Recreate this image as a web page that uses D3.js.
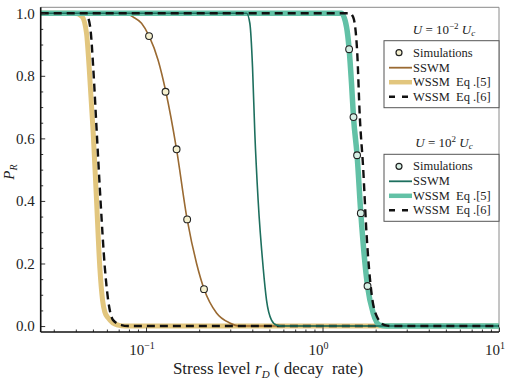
<!DOCTYPE html>
<html>
<head>
<meta charset="utf-8">
<script src="https://cdn.jsdelivr.net/npm/d3@7"></script>
<style>
  body { margin: 0; background: #fff; }
  text { font-family: "Liberation Serif", "DejaVu Serif", serif; fill: #222; }
</style>
</head>
<body>
<svg></svg>
<script>
// values: r = stress level, p = P_R
const xTicks = [0.1, 1, 10]
const xTickExp = ["\u22121", "0", "1"]
const yTicks = [0, 0.2, 0.4, 0.6, 0.8, 1.0]

// U = 10^-2 U_c
const rSimLow = [0.104, 0.129, 0.149, 0.171, 0.213]
const pSimLow = [0.927, 0.749, 0.565, 0.341, 0.118]
const rSswmLow = [0.0253, 0.0759, 0.0845, 0.0943, 0.1041, 0.1171, 0.1295, 0.1489, 0.1710, 0.1932, 0.2134, 0.2508, 0.2984, 0.3399, 10]
const pSswmLow = [1, 1, 0.988, 0.968, 0.927, 0.850, 0.749, 0.565, 0.341, 0.201, 0.118, 0.042, 0.010, 0, 0]
const rEq5Low = [0.0253, 0.0395, 0.0433, 0.0460, 0.0476, 0.0502, 0.0524, 0.0547, 0.0567, 0.0584, 0.0610, 0.0649, 0.0695, 0.0759, 10]
const pEq5Low = [1, 1, 0.990, 0.936, 0.827, 0.617, 0.403, 0.188, 0.083, 0.045, 0.026, 0.010, 0.003, 0, 0]
const rEq6Low = [0.0253, 0.0460, 0.0470, 0.0487, 0.0502, 0.0526, 0.0552, 0.0584, 0.0610, 0.0651, 0.0726, 0.0789, 10]
const pEq6Low = [1, 1, 0.987, 0.936, 0.827, 0.617, 0.403, 0.188, 0.083, 0.019, 0.003, 0, 0]

// U = 10^2 U_c
const rSimHigh = [1.415, 1.498, 1.570, 1.648, 1.799]
const pSimHigh = [0.885, 0.668, 0.546, 0.361, 0.128]
const rSswmHigh = [0.0253, 0.3710, 0.3874, 0.4013, 0.4134, 0.4316, 0.4608, 0.4816, 0.5140, 0.5488, 0.5958, 10]
const pSswmHigh = [1, 1, 0.968, 0.827, 0.617, 0.403, 0.188, 0.083, 0.019, 0.003, 0, 0]
const rEq5High = [0.0253, 1.281, 1.368, 1.415, 1.460, 1.498, 1.570, 1.648, 1.799, 1.935, 2.112, 2.305, 10]
const pEq5High = [1, 1, 0.956, 0.885, 0.776, 0.668, 0.546, 0.361, 0.128, 0.042, 0.003, 0, 0]
const rEq6High = [0.0253, 1.428, 1.491, 1.570, 1.627, 1.698, 1.775, 1.895, 2.038, 2.254, 2.469, 10]
const pEq6High = [1, 1, 0.988, 0.882, 0.668, 0.508, 0.297, 0.105, 0.029, 0.003, 0, 0]

const legendLabels = ["Simulations", "SSWM", "WSSM  Eq .[5]", "WSSM  Eq .[6]"]

const colBrown = "#9a6a32", colGold = "#e2c67e"
const colTealDark = "#1d6f5e", colTeal = "#62c1a6"

const zip = (rs, ps) => rs.map((r, i) => ({r: r, p: ps[i]}))

const svg = d3.select("svg").attr("width", 511).attr("height", 383)
svg.append("rect").attr("width", 511).attr("height", 383).attr("fill", "#fff")

const pl = 40.7, pr = 499, pt = 7.3, pb = 332
const x = d3.scaleLog().domain([0.0253, 10]).range([pl, pr])
const y = d3.scaleLinear().domain([-0.019, 1.019]).range([pb, pt])

svg.append("clipPath").attr("id", "clip")
  .append("rect").attr("x", pl).attr("y", pt)
  .attr("width", pr - pl).attr("height", pb - pt)

// frame top / right
svg.append("path")
  .attr("d", `M${pl},${pt}H${pr}V${pb}`)
  .attr("fill", "none").attr("stroke", "#8a8a8a").attr("stroke-width", 1)

const line = d3.line()
  .x(d => x(d.r))
  .y(d => y(d.p))
  .curve(d3.curveMonotoneX)

const plot = svg.append("g").attr("clip-path", "url(#clip)")

function curve(data, color, width, dash) {
  plot.append("path")
    .datum(data)
    .attr("d", line)
    .attr("fill", "none")
    .attr("stroke", color)
    .attr("stroke-width", width)
    .attr("stroke-dasharray", dash || null)
    .attr("stroke-linejoin", "round")
}
function sims(data, fill) {
  plot.selectAll(null)
    .data(data)
    .enter()
    .append("circle")
    .attr("cx", d => x(d.r))
    .attr("cy", d => y(d.p))
    .attr("r", 3.4)
    .attr("fill", fill)
    .attr("stroke", "#222")
    .attr("stroke-width", 1.1)
}

curve(zip(rEq5Low, pEq5Low), colGold, 5)
curve(zip(rSswmLow, pSswmLow), colBrown, 1.6)
curve(zip(rEq6Low, pEq6Low), "#111", 2.4, "8,5")
sims(zip(rSimLow, pSimLow), "#f6f1cf")
curve(zip(rEq5High, pEq5High), colTeal, 5.5)
curve(zip(rSswmHigh, pSswmHigh), colTealDark, 1.6)
curve(zip(rEq6High, pEq6High), "#111", 2.4, "8,5")
sims(zip(rSimHigh, pSimHigh), "#d6efe5")

// x axis
const minorX = []
for (let e = -2; e <= 0; e++) {
  for (let k = 2; k <= 9; k++) {
    const v = k * Math.pow(10, e)
    if (v > 0.0253 && v < 10) minorX.push(v)
  }
}
const gx = svg.append("g").attr("transform", `translate(0,${pb})`)
gx.call(d3.axisBottom(x).tickValues(xTicks).tickSize(-4.5).tickFormat(""))
gx.append("g").call(d3.axisBottom(x).tickValues(minorX).tickSize(-2.5).tickFormat(""))
gx.selectAll(".domain").remove()
gx.selectAll("line").attr("stroke", "#333")
svg.append("line").attr("x1", pl).attr("x2", pr).attr("y1", pb).attr("y2", pb)
  .attr("stroke", "#111").attr("stroke-width", 1.6)

const xl = svg.selectAll("text.xt").data(xTicks).enter().append("text")
  .attr("class", "xt")
  .attr("x", (d, i) => x(d) - 4)
  .attr("y", 355)
  .attr("text-anchor", "middle")
  .attr("fill", "#333")
  .style("font-size", "15px")
xl.append("tspan").text("10")
xl.append("tspan").text((d, i) => xTickExp[i]).attr("dy", -6).style("font-size", "10px")

// y axis
const minorY = d3.range(0, 1.0001, 0.05).filter(v => Math.abs(v * 5 - Math.round(v * 5)) > 1e-6)
const gy = svg.append("g").attr("transform", `translate(${pl},0)`)
gy.call(d3.axisLeft(y).tickValues(yTicks).tickSize(-4.5).tickPadding(6).tickFormat(d3.format(".1f")))
gy.append("g").call(d3.axisLeft(y).tickValues(minorY).tickSize(-2.5).tickFormat(""))
gy.selectAll(".domain").remove()
gy.selectAll("line").attr("stroke", "#333")
gy.selectAll("text").style("font-size", "15px").style("font-family", "Liberation Serif, serif").attr("fill", "#333")
svg.append("line").attr("x1", pl).attr("x2", pl).attr("y1", pt).attr("y2", pb)
  .attr("stroke", "#111").attr("stroke-width", 1.6)

// axis titles
const xt = svg.append("text").attr("x", 268).attr("y", 374).attr("text-anchor", "middle")
  .style("font-size", "17px").attr("xml:space", "preserve")
xt.append("tspan").text("Stress level ")
xt.append("tspan").text("r").style("font-style", "italic")
xt.append("tspan").text("D").attr("dy", 4).style("font-size", "11px").style("font-style", "italic")
xt.append("tspan").text(" ( decay  rate)").attr("dy", -4)

const yt = svg.append("text").attr("transform", "translate(14,172) rotate(-90)").attr("text-anchor", "middle")
  .style("font-size", "15px")
yt.append("tspan").text("P").style("font-style", "italic")
yt.append("tspan").text("R").attr("dy", 3).style("font-size", "10px").style("font-style", "italic")

// legends
function legend(y0, exp, thin, thick, simFill) {
  const g = svg.append("g")
  const t = g.append("text").attr("x", 444).attr("y", y0 - 7).attr("text-anchor", "middle")
    .style("font-size", "13px").style("font-style", "italic")
  t.append("tspan").text("U")
  t.append("tspan").text(" = 10").style("font-style", "normal")
  t.append("tspan").text(exp).attr("dy", -5).style("font-size", "9px").style("font-style", "normal")
  t.append("tspan").text(" U").attr("dy", 5)
  t.append("tspan").text("c").attr("dy", 2).style("font-size", "9px")

  g.append("rect").attr("x", 384).attr("y", y0).attr("width", 115).attr("height", 67)
    .attr("fill", "#fff").attr("stroke", "#555").attr("stroke-width", 1)

  const rows = [y0 + 12, y0 + 27, y0 + 41.5, y0 + 56]
  g.append("circle").attr("cx", 399).attr("cy", rows[0]).attr("r", 3)
    .attr("fill", simFill).attr("stroke", "#222").attr("stroke-width", 1.2)
  g.append("line").attr("x1", 389).attr("x2", 412).attr("y1", rows[1]).attr("y2", rows[1])
    .attr("stroke", thin).attr("stroke-width", 1.8)
  g.append("line").attr("x1", 389).attr("x2", 412).attr("y1", rows[2]).attr("y2", rows[2])
    .attr("stroke", thick).attr("stroke-width", 4.5)
  g.append("line").attr("x1", 389).attr("x2", 408).attr("y1", rows[3]).attr("y2", rows[3])
    .attr("stroke", "#111").attr("stroke-width", 2.4).attr("stroke-dasharray", "6,7")
  g.selectAll("text.lg").data(legendLabels).enter().append("text")
    .attr("class", "lg")
    .attr("x", 413)
    .attr("y", (d, i) => rows[i] + 4)
    .attr("xml:space", "preserve")
    .style("font-size", "12.5px")
    .text(d => d)
}
legend(40.7, "\u22122", colBrown, colGold, "#f6f1cf")
legend(154.3, "2", colTealDark, colTeal, "#d6efe5")
</script>
</body>
</html>
